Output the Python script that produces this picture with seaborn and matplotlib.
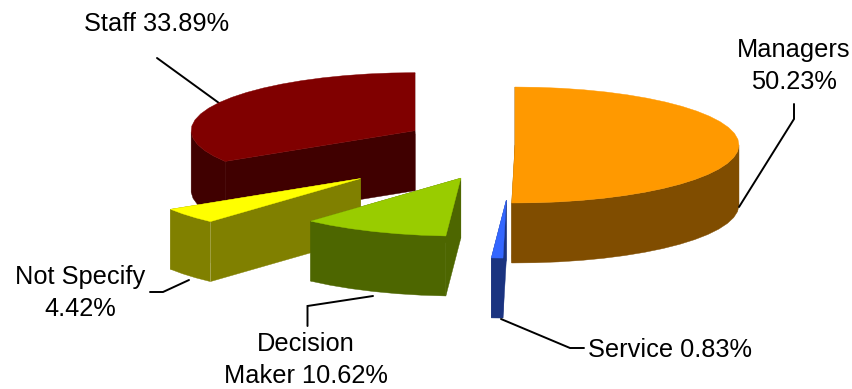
import numpy as np
import pandas as pd
import matplotlib
matplotlib.use("Agg")
import matplotlib.pyplot as plt
import seaborn as sns

# --- data -----------------------------------------------------------------
categories = ["Managers", "Service", "Decision Maker", "Not Specify", "Staff"]
shares = [50.23, 0.83, 10.62, 4.42, 33.89]
explode = [0.0, 0.95, 0.62, 0.90, 0.51]
top_colors = ["#FF9900", "#3366FF", "#99CC00", "#FFFF00", "#800000"]
label_text = ["Managers\n50.23%", "Service 0.83%", "Decision\nMaker 10.62%",
              "Not Specify\n4.42%", "Staff 33.89%"]

# --- style ----------------------------------------------------------------
sns.set_theme(style="white")
plt.rcParams["font.family"] = ["Liberation Sans", "DejaVu Sans"]
palette = sns.color_palette(top_colors)

# --- projection of the tilted pie, in figure pixels --------------------------
CX, CY, RX, RY, DEPTH = 515.0, 145.0, 224.0, 58.0, 60.0

df = pd.DataFrame({"category": categories, "share": shares, "offset": explode})
total = df["share"].sum()
df["end"] = df["share"].cumsum() / total * 2 * np.pi
df["start"] = df["end"] - df["share"] / total * 2 * np.pi
df["color"] = list(palette)


def project(theta, radius=1.0):
    return radius * RX * np.sin(theta), -radius * RY * np.cos(theta)


fig = plt.figure(figsize=(8.53, 3.89), dpi=100)
ax = fig.add_axes([0, 0, 1, 1])
ax.set_xlim(0, 853)
ax.set_ylim(389, 0)
ax.axis("off")


def draw_slice(row, zorder):
    mid = (row["start"] + row["end"]) / 2
    dx, dy = project(mid, row["offset"])
    ax0, ay0 = CX + dx, CY + dy
    n = max(3, int((row["end"] - row["start"]) / (2 * np.pi) * 60))
    th = np.linspace(row["start"], row["end"], n + 1)
    ax_arc = ax0 + RX * np.sin(th)
    ay_arc = ay0 - RY * np.cos(th)
    top = row["color"]
    side = tuple(c * 0.5 for c in top)
    seam = dict(color="white", lw=0.5, alpha=0.35, zorder=zorder + 0.5)
    # cut faces
    for t in (row["start"], row["end"]):
        px, py = ax0 + RX * np.sin(t), ay0 - RY * np.cos(t)
        ax.fill([ax0, px, px, ax0], [ay0, py, py + DEPTH, ay0 + DEPTH],
                color=side, lw=0.3, zorder=zorder)
    # outer wall: only the part that faces the viewer
    front = np.cos(th) < 0.02
    if front.any():
        ax_f, ay_f = ax_arc[front], ay_arc[front]
        ax.fill(np.r_[ax_f, ax_f[::-1]], np.r_[ay_f, ay_f[::-1] + DEPTH],
                color=side, lw=0.3, zorder=zorder + 0.1)
    # top face
    ax.fill(np.r_[ax0, ax_arc], np.r_[ay0, ay_arc], color=top, lw=0.3,
            zorder=zorder + 0.2)
    # faint seams along the corners
    name = row["category"]
    if name in ("Staff", "Not Specify"):
        i = -1 if name == "Staff" else 0
        ax.plot([ax_arc[i], ax_arc[i]], [ay_arc[i], ay_arc[i] + DEPTH], **seam)
    if name == "Staff":
        ax.plot([ax0, ax_arc[-1]], [ay0, ay_arc[-1]], **seam)


paint_order = ["Staff", "Managers", "Not Specify", "Decision Maker", "Service"]
for z, name in enumerate(paint_order, start=2):
    draw_slice(df[df["category"] == name].iloc[0], z)

# --- labels and leader lines ----------------------------------------------
label_pos = {
    "Managers": (794, 66),
    "Service": (670, 350),
    "Decision Maker": (306, 360),
    "Not Specify": (80, 293),
    "Staff": (157, 24),
}
leaders = {
    "Managers": [(794, 104), (794, 119), (739, 207)],
    "Service": [(501, 319), (570, 348), (584, 348)],
    "Decision Maker": [(307.5, 326), (307.5, 306), (373, 296)],
    "Not Specify": [(150, 292), (163, 292), (189, 280)],
    "Staff": [(157, 58), (219, 103)],
}
for name, txt in zip(categories, label_text):
    x, y = label_pos[name]
    ax.text(x, y, txt, ha="center", va="center", fontsize=18.3, color="black",
            linespacing=1.42, zorder=20)
    pts = np.array(leaders[name])
    ax.plot(pts[:, 0], pts[:, 1], color="black", lw=1.4, zorder=1 if name == "Staff" else 15,
            solid_joinstyle="miter")

fig.savefig("out.png", dpi=100)
